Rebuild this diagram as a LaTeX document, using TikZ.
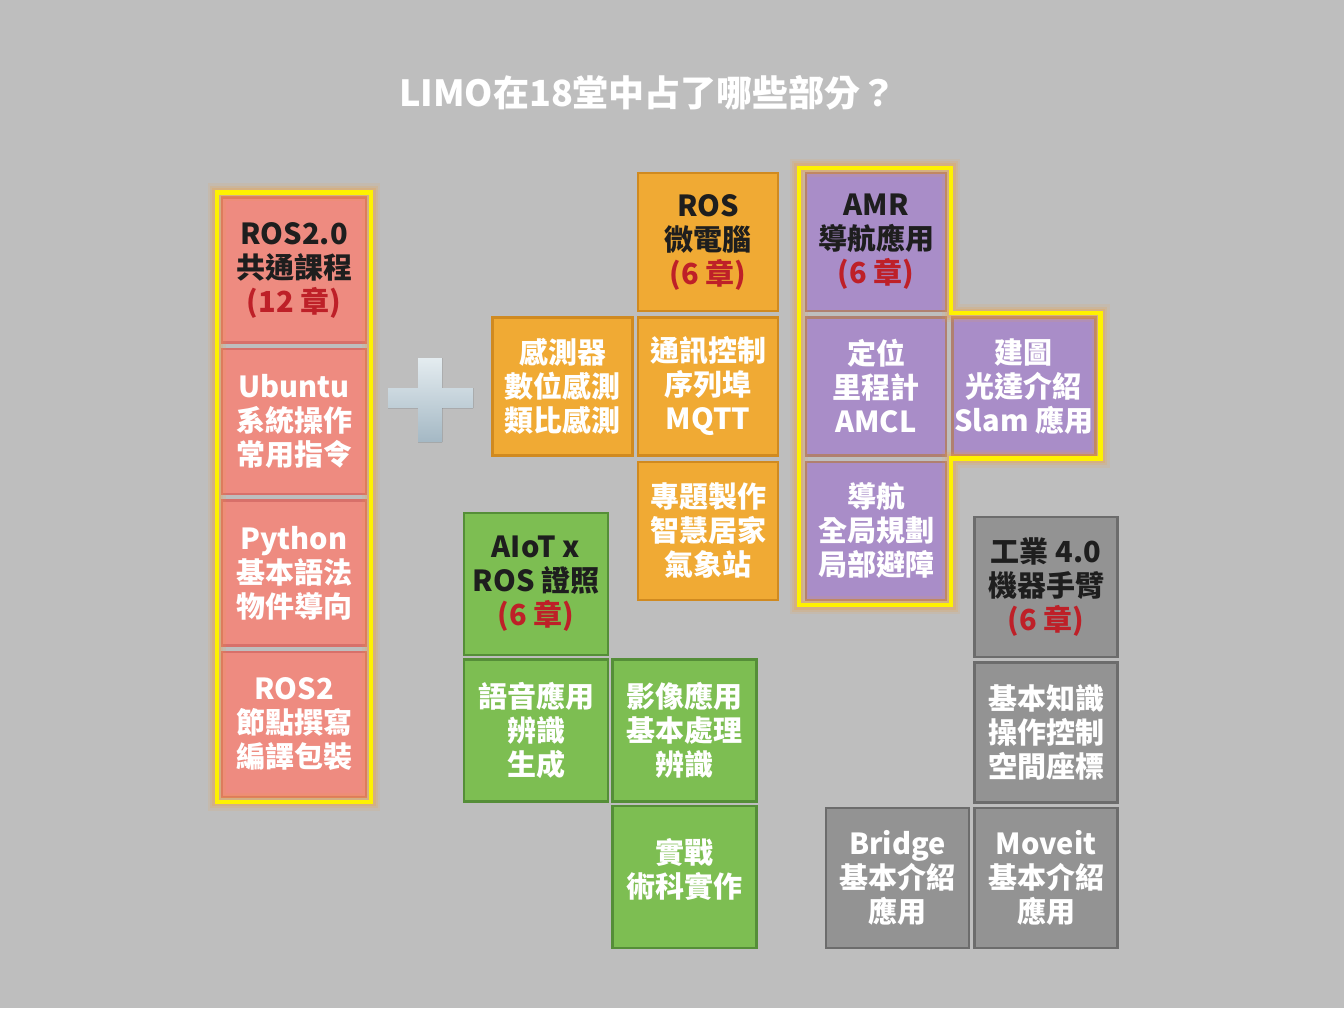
\documentclass[tikz,border=0pt]{standalone}
\usepackage{fontspec}
\setmainfont{Noto Sans CJK TC}
\usetikzlibrary{positioning}

\definecolor{bggray}{HTML}{BEBEBE}
\definecolor{redfill}{HTML}{EE8B80}
\definecolor{redline}{HTML}{D8706A}
\definecolor{orangefill}{HTML}{F0AA34}
\definecolor{orangeline}{HTML}{D08A20}
\definecolor{purplefill}{HTML}{A98DC8}
\definecolor{purpleline}{HTML}{B08070}
\definecolor{greenfill}{HTML}{7DBE52}
\definecolor{greenline}{HTML}{558E38}
\definecolor{grayfill}{HTML}{939393}
\definecolor{grayline}{HTML}{6C6C6C}
\definecolor{headtext}{HTML}{1E1E1E}
\definecolor{chapred}{HTML}{BE2028}
\definecolor{glowcolor}{HTML}{F0A040}
\definecolor{plustop}{HTML}{E4ECF0}
\definecolor{plusbottom}{HTML}{A4B8C4}

\newcommand{\boxfont}{\fontsize{14.5}{17}\selectfont\bfseries}
\newcommand{\chapnote}[1]{\textcolor{chapred}{#1}}

\begin{document}
\begin{tikzpicture}[
	x=0.5pt, y=-0.5pt,
	% Define styles
	titletext/.style={font=\fontsize{18}{21}\selectfont\bfseries, text=white},
	tile/.style={rectangle, line width=1.2pt, align=center, inner sep=1pt, font=\boxfont, text=white},
	redtile/.style={tile, fill=redfill, draw=redline, minimum width=72pt, minimum height=72.5pt},
	orangetile/.style={tile, fill=orangefill, draw=orangeline, minimum width=70pt, minimum height=69pt},
	purpletile/.style={tile, fill=purplefill, draw=purpleline, minimum width=70pt, minimum height=69pt},
	greentile/.style={tile, fill=greenfill, draw=greenline, minimum width=72pt, minimum height=71pt},
	graytile/.style={tile, fill=grayfill, draw=grayline, minimum width=71.5pt, minimum height=70pt},
	head/.style={text=headtext},
	hilite/.style={draw=yellow, line width=2.2pt, line join=miter,
		preaction={draw=glowcolor, opacity=0.12, line width=9pt},
		preaction={draw=glowcolor, opacity=0.18, line width=6.5pt},
		preaction={draw=glowcolor, opacity=0.25, line width=4.5pt}}
	]
	
	% Background
	\fill[bggray] (0,0) rectangle (1344,1008);
	\useasboundingbox (0,0) rectangle (1344,1008);
	
	% 1. Title
	\node[titletext] (title) at (648,93) {LIMO在18堂中占了哪些部分？};
	
	% 2. ROS2.0 column
	\node[redtile, head] (r1) at (294,270) {ROS2.0\\共通課程\\\chapnote{(12 章)}};
	\node[redtile, below=2pt of r1] (r2) {Ubuntu\\系統操作\\常用指令};
	\node[redtile, below=2pt of r2] (r3) {Python\\基本語法\\物件導向};
	\node[redtile, below=2pt of r3] (r4) {ROS2\\節點撰寫\\編譯包裝};
	\draw[hilite] ([shift={(-2pt,2pt)}]r1.north west) rectangle ([shift={(2pt,-2pt)}]r4.south east);
	
	% Plus sign
	\fill[top color=plustop, bottom color=plusbottom]
		(418,358) -- (442,358) -- (442,388) -- (473,388) -- (473,408) -- (442,408)
		-- (442,442) -- (418,442) -- (418,408) -- (388,408) -- (388,388) -- (418,388) -- cycle;
	
	% 3. ROS micro computer
	\node[orangetile, head] (o1) at (708,242) {ROS\\微電腦\\\chapnote{(6 章)}};
	\node[orangetile, below=2pt of o1] (o2) {通訊控制\\序列埠\\MQTT};
	\node[orangetile, left=1.5pt of o2] (o3) {感測器\\數位感測\\類比感測};
	\node[orangetile, below=2pt of o2] (o4) {專題製作\\智慧居家\\氣象站};
	
	% 4. AMR
	\node[purpletile, head] (p1) at (876,242) {AMR\\導航應用\\\chapnote{(6 章)}};
	\node[purpletile, below=2pt of p1] (p2) {定位\\里程計\\AMCL};
	\node[purpletile, right=2pt of p2] (p3) {建圖\\光達介紹\\Slam 應用};
	\node[purpletile, below=2pt of p2] (p4) {導航\\全局規劃\\局部避障};
	\draw[hilite] ([shift={(-3pt,2pt)}]p1.north west) -- ([shift={(2pt,2pt)}]p1.north east)
		|- ([shift={(2pt,1.5pt)}]p3.north east) -- ([shift={(2pt,-1pt)}]p3.south east)
		-| ([shift={(2pt,-2pt)}]p4.south east) -| ([shift={(-3pt,2pt)}]p1.north west) -- cycle;
	
	% 5. AIoT x ROS
	\node[greentile, head] (g1) at (536,584) {AIoT x\\ROS 證照\\\chapnote{(6 章)}};
	\node[greentile, below=1pt of g1] (g2) {語音應用\\辨識\\生成};
	\node[greentile, right=1pt of g2] (g3) {影像應用\\基本處理\\辨識};
	\node[greentile, below=1pt of g3] (g4) {實戰\\術科實作\\[-8pt]\mbox{}};
	
	% 6. Industry 4.0
	\node[graytile, head] (k1) at (1046,587) {工業 4.0\\機器手臂\\\chapnote{(6 章)}};
	\node[graytile, below=1.5pt of k1] (k2) {基本知識\\操作控制\\空間座標};
	\node[graytile, below=1.5pt of k2] (k4) {Moveit\\基本介紹\\應用};
	\node[graytile, left=1.5pt of k4] (k3) {Bridge\\基本介紹\\應用};
\end{tikzpicture}
\end{document}
